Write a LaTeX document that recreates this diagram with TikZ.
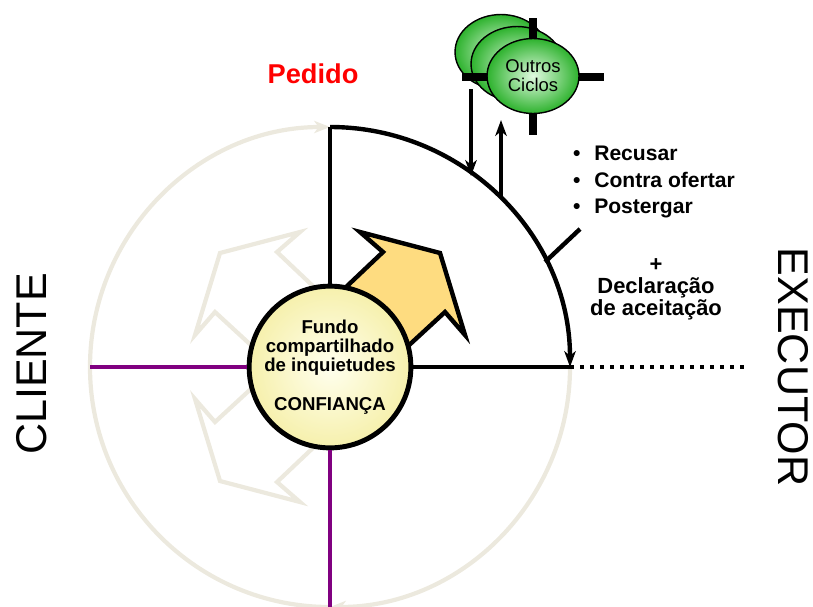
\documentclass[tikz,border=0pt]{standalone}
\usepackage{fontspec}
\setmainfont{Liberation Sans}
\usetikzlibrary{arrows.meta,positioning,shapes.geometric}
\definecolor{bege}{RGB}{236,233,222}
\definecolor{roxo}{RGB}{128,0,128}
\definecolor{ouro}{RGB}{254,220,128}
\definecolor{verde}{RGB}{45,178,45}
\definecolor{verdeclaro}{RGB}{225,250,225}
\definecolor{creme}{RGB}{255,255,238}
\definecolor{cremeborda}{RGB}{246,240,172}
\tikzset{
    %Define standard arrow tip
    >={Stealth[length=9pt,width=6.5pt,inset=2.5pt]},
    %Define style for the shared background
    nucleo/.style={
           circle,
           draw=black, line width=2.8pt,
           minimum size=3.12cm,
           inner sep=0pt,
           shading=radial,
           inner color=creme,
           outer color=cremeborda,
           align=center,
           font=\bfseries\fontsize{10.6}{11}\selectfont},
    %Define style for the other cycles
    ciclo/.style={
           ellipse,
           draw=black, line width=0.8pt,
           minimum width=1.84cm,
           minimum height=1.5cm,
           inner sep=0pt,
           shading=radial,
           inner color=verdeclaro,
           outer color=verde,
           align=center,
           font=\fontsize{10.5}{10.8}\selectfont},
    % Define line styles
    laco/.style={line width=2.5pt},
    imply/.style={->, line width=2.2pt},
    rastro/.style={bege, line width=2.4pt},
    cruz/.style={line width=4pt},
    seta/.style={line width=2.5pt, line join=miter},
    fala/.style={font=\bfseries\fontsize{12}{15}\selectfont},
    papel/.style={font=\fontsize{24.5}{26}\selectfont},
}

\begin{document}
\begin{tikzpicture}[x=0.02cm, y=-0.02cm]
 \useasboundingbox (0,0) rectangle (813,606);
 %points
 \coordinate (c) at (330,367);
 \coordinate (topo) at (330,127);
 \coordinate (leste) at (570,367);
 \coordinate (fim) at (746,367);
 \coordinate (oeste) at (90,367);
 \coordinate (sul) at (330,607);
 %cycle
 \draw[rastro, -{Stealth[length=9pt,width=7pt,inset=2.5pt]}] (leste) arc[start angle=0, end angle=90, radius=240];
 \draw[rastro, -{Stealth[length=9pt,width=7pt,inset=2.5pt]}] (sul) arc[start angle=90, end angle=270, radius=240];
 %arrows round the core
 \foreach \sx/\sy in {-1/-1,-1/1,1/1}
   \draw[rastro, line join=miter, shift={(c)}, xscale=\sx, yscale=\sy]
     (-25,-41) -- (15,-79) -- (53,-115) -- (30,-135) -- (110,-114)
     -- (135,-32) -- (115,-55) -- (77,-20) -- (37,17) -- cycle;
 \draw[seta, fill=ouro, shift={(c)}]
     (-25,-41) -- (15,-79) -- (53,-115) -- (30,-135) -- (110,-114)
     -- (135,-32) -- (115,-55) -- (77,-20) -- (37,17) -- cycle;
 %core
 \node[nucleo] (core) at (c) {Fundo\\compartilhado\\de inquietudes\\[11pt]CONFIAN\c{C}A};
 %edges
 \draw[laco] (core.north) -- (topo);
 \draw[laco] (core.east) -- (leste);
 \draw[laco, dash pattern=on 2.3pt off 3.4pt] (leste) -- (fim);
 \draw[roxo, line width=2.5pt] (core.west) -- (oeste);
 \draw[roxo, line width=2.5pt] (core.south) -- (sul);
 \draw[laco, ->] (topo) arc[start angle=270, end angle=360, radius=240];
 %other cycles
 \node[ciclo] (ciclo3) at (501,52) {};
 \node[ciclo] (ciclo2) at (517,64) {};
 \draw[cruz] (462,77) -- (604,77);
 \draw[cruz] (533,18) -- (533,135);
 \node[ciclo] (ciclo1) at (533,76) {Outros\\Ciclos};
 \coordinate (vai0) at (471,89);
 \coordinate (vai1) at (471,176);
 \coordinate (vem0) at (501,198);
 \coordinate (vem1) at (501,120);
 \draw[imply] (vai0) -- (vai1);
 \draw[imply] (vem0) -- (vem1);
 \coordinate (marca0) at (545,262);
 \coordinate (marca1) at (580,229);
 \draw[laco] (marca0) -- (marca1);
 %labels
 \node[font=\bfseries\fontsize{15.5}{18}\selectfont, text=red] (pedido) at (313,74) {Pedido};
 \node[fala, align=left, anchor=west] (opcoes) at (567,182)
   {\makebox[1em][l]{\textbullet}Recusar\\\makebox[1em][l]{\textbullet}Contra ofertar\\\makebox[1em][l]{\textbullet}Postergar};
 \node[font=\bfseries\fontsize{12.5}{12.5}\selectfont, align=center] (aceite) at (656,289)
   {+\\Declara\c{c}\~ao\\de aceita\c{c}\~ao};
 \node[papel, rotate=90] (cliente) at (32,364) {CLIENTE};
 \node[papel, rotate=-90] (executor) at (793,367) {EXECUTOR};
\end{tikzpicture}
\end{document}
